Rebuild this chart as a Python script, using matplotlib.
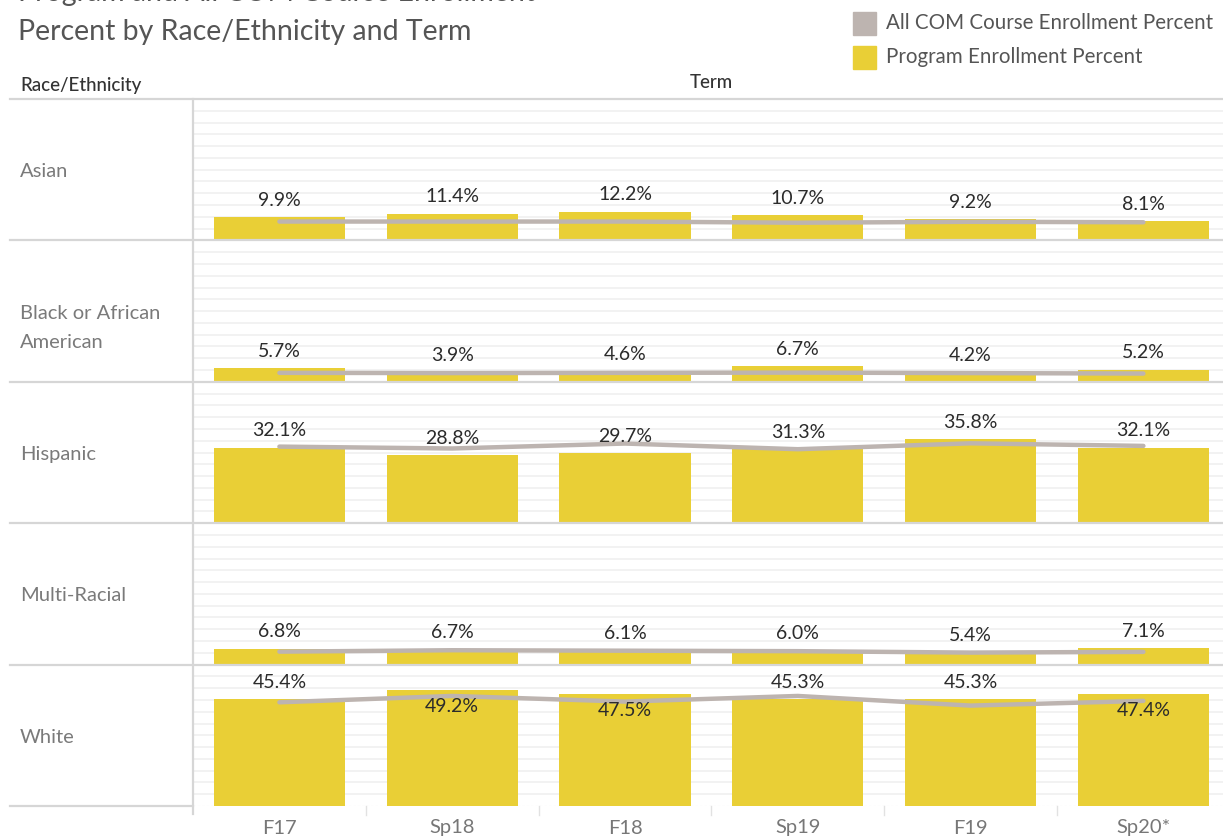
import matplotlib
matplotlib.use("Agg")
import matplotlib.pyplot as plt
from matplotlib.lines import Line2D
from matplotlib.patches import Rectangle

# ------------------------------
# Données
# ------------------------------
terms = ["F17", "Sp18", "F18", "Sp19", "F19", "Sp20*"]
groups = ["Asian", "Black or African\nAmerican", "Hispanic", "Multi-Racial", "White"]

# Program Enrollment Percent (barres)
program_asian = [9.9, 11.4, 12.2, 10.7, 9.2, 8.1]
program_black = [5.7, 3.9, 4.6, 6.7, 4.2, 5.2]
program_hispanic = [32.1, 28.8, 29.7, 31.3, 35.8, 32.1]
program_multi = [6.8, 6.7, 6.1, 6.0, 5.4, 7.1]
program_white = [45.4, 49.2, 47.5, 45.3, 45.3, 47.4]

# All COM Course Enrollment Percent (ligne, estimée)
allcom_asian = [8.0, 8.0, 8.0, 7.5, 7.9, 7.7]
allcom_black = [3.8, 3.7, 3.8, 3.9, 3.7, 3.5]
allcom_hispanic = [32.5, 31.7, 33.8, 31.4, 33.9, 32.8]
allcom_multi = [5.5, 6.1, 5.9, 5.7, 5.1, 5.4]
allcom_white = [44.0, 46.7, 44.3, 46.7, 42.6, 44.6]

program = [program_asian, program_black, program_hispanic, program_multi, program_white]
allcom = [allcom_asian, allcom_black, allcom_hispanic, allcom_multi, allcom_white]

# étiquettes placées sous la ligne (évitement de collision)
below_labels = {(4, 1), (4, 2), (4, 5)}

# ------------------------------
# Style
# ------------------------------
plt.rcParams["font.family"] = ["Lato", "DejaVu Sans"]
BAR_COLOR = "#e9cf36"
LINE_COLOR = "#bdb4b0"
SEP_COLOR = "#d6d6d6"
GRID_COLOR = "#f1f1f1"

W, H = 1223, 839
fig = plt.figure(figsize=(W / 100, H / 100), dpi=100)


def fx(px):
    return px / W


def fy(py):
    return 1 - py / H


# Géométrie (en pixels)
left, right = 193, 1223
top = 99
row_h = 141.4
col_w = 172.8
n_rows = len(groups)
ymax = 60
line_px = 29  # interligne des libellés de ligne

for r in range(n_rows):
    y_top = top + r * row_h
    ax = fig.add_axes([fx(left), fy(y_top + row_h), fx(right) - fx(left), row_h / H])
    ax.set_xlim(-0.5, -0.5 + (right - left) / col_w)
    ax.set_ylim(0, ymax)
    for s in ax.spines.values():
        s.set_visible(False)
    ax.set_xticks([])
    ax.set_yticks([])
    ax.patch.set_alpha(0)

    # lignes de grille
    for g in range(5, ymax, 5):
        ax.axhline(g, color=GRID_COLOR, lw=1.3, zorder=0)
    ax.axhline(0, color="#dddddd", lw=0.8, ls=(0, (2, 2)), zorder=0)

    x = list(range(len(terms)))
    ax.bar(x, program[r], width=0.76, color=BAR_COLOR, zorder=2)
    ax.plot(x, allcom[r], color=LINE_COLOR, lw=3.2, solid_capstyle="round", zorder=3)

    for c, v in enumerate(program[r]):
        off = -12 if (r, c) in below_labels else 12
        ax.annotate(f"{v:.1f}%", (c, v), xytext=(0, off), textcoords="offset points",
                    ha="center", va="center", fontsize=14, color="#2b2b2b", zorder=4)

    # libellé de la ligne (première ligne centrée sur la rangée)
    lines = groups[r].split("\n")
    for i, txt in enumerate(lines):
        fig.text(fx(20), fy(y_top + row_h * 0.5 + 2 + i * line_px), txt, ha="left", va="center",
                 fontsize=14.5, color="#7a7a7a")

# Séparateurs horizontaux
for r in range(n_rows):
    yy = fy(top + r * row_h)
    fig.add_artist(Line2D([fx(10), 1], [yy, yy], color=SEP_COLOR, lw=1.6))
y_bot = fy(top + n_rows * row_h)
fig.add_artist(Line2D([fx(10), fx(left)], [y_bot, y_bot], color=SEP_COLOR, lw=1.6))

# Ligne verticale et graduations
fig.add_artist(Line2D([fx(left), fx(left)], [fy(top), fy(top + n_rows * row_h + 8)],
                      color=SEP_COLOR, lw=1.6))
for k in range(1, 6):
    xx = fx(left + k * col_w)
    fig.add_artist(Line2D([xx, xx], [y_bot, fy(top + n_rows * row_h + 9)],
                          color="#e2e2e2", lw=1))

# Étiquettes des termes
for c, t in enumerate(terms):
    fig.text(fx(left + (c + 0.5) * col_w), fy(828), t, ha="center", va="center",
             fontsize=14.5, color="#777777")

# En-têtes
fig.text(fx(20), fy(85), "Race/Ethnicity", ha="left", va="center",
         fontsize=13.5, color="#333333", fontweight="medium")
fig.text(fx(711), fy(83), "Term", ha="center", va="center",
         fontsize=13.5, color="#333333", fontweight="medium")

# Titre (première ligne coupée en haut, comme dans l'original)
fig.text(fx(18), fy(-7), "Program and All COM Course Enrollment", ha="left", va="center",
         fontsize=20.5, color="#555555")
fig.text(fx(18), fy(32), "Percent by Race/Ethnicity and Term", ha="left", va="center",
         fontsize=20.5, color="#555555")

# Légende
legend_items = [("All COM Course Enrollment Percent", "#bdb4b0", 23),
                ("Program Enrollment Percent", BAR_COLOR, 57)]
for label, col, yc in legend_items:
    fig.add_artist(Rectangle((fx(853), fy(yc + 12)), 23 / W, 23 / H, color=col,
                             transform=fig.transFigure))
    fig.text(fx(886), fy(yc), label, ha="left", va="center", fontsize=14.8, color="#555555")

fig.savefig("out.png", dpi=100)
